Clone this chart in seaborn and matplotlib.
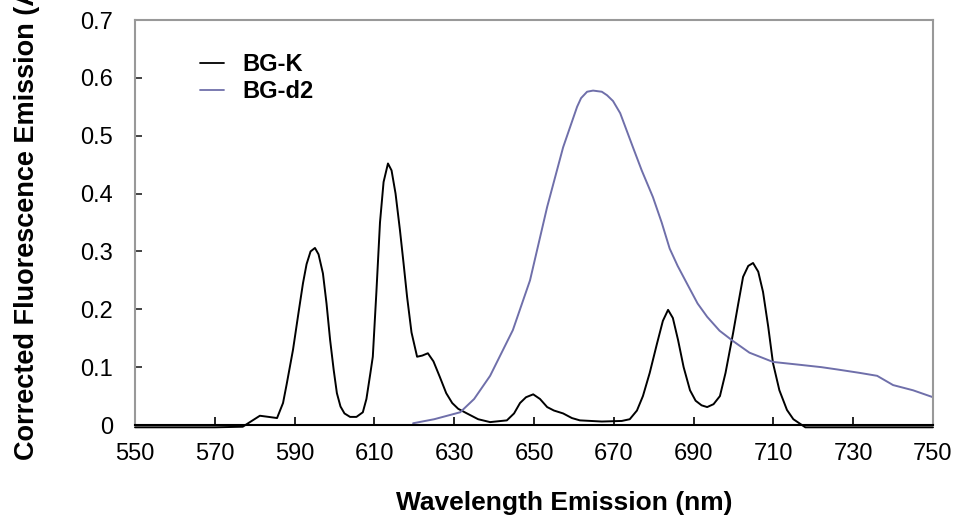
import numpy as np
import pandas as pd
import matplotlib
matplotlib.use('Agg')
import matplotlib.pyplot as plt
import seaborn as sns
from matplotlib.ticker import FuncFormatter

# 读数：BG-K 发射光谱
bgk_nm = [550, 560, 570, 577, 578.8, 581.3, 583.5, 585.6, 587.1, 588, 589.6, 591, 592.1, 593,
          594, 595.1, 596, 597.1, 598, 598.9, 599.8, 600.6, 601.5, 602.5, 603.9, 605.5,
          607.1, 608, 609, 609.6, 610.5, 611.4, 612.3, 613.4, 614.3, 615.3, 616.4, 617.3,
          618.2, 619.3, 620.7, 622, 623.4, 624.8, 626.4, 628, 629.5, 631, 633.2, 636, 639,
          643.2, 645, 646.5, 648, 649.8, 651.5, 653.3, 655, 657.3, 659.5, 661.5, 667, 672,
          674, 675.8, 677.3, 679, 680.8, 682.3, 683.6, 684.8, 686.1, 687.5, 689.1, 690.5,
          692, 693.4, 695, 696.6, 698, 699.9, 701.2, 702.4, 703.7, 704.9, 706.2, 707.4,
          708.7, 709.9, 711.5, 713.4, 715, 716.5, 718, 730, 740, 750]
bgk_val = [-0.004, -0.004, -0.004, -0.003, 0.005, 0.016, 0.014, 0.012, 0.038, 0.07, 0.13, 0.195,
           0.245, 0.278, 0.3, 0.306, 0.295, 0.262, 0.21, 0.147, 0.095, 0.055, 0.032, 0.02,
           0.014, 0.014, 0.022, 0.045, 0.09, 0.118, 0.23, 0.35, 0.42, 0.452, 0.44, 0.4,
           0.337, 0.28, 0.221, 0.16, 0.118, 0.12, 0.124, 0.11, 0.083, 0.055, 0.038, 0.028,
           0.02, 0.01, 0.005, 0.008, 0.02, 0.038, 0.048, 0.053, 0.045, 0.031, 0.025, 0.02,
           0.012, 0.008, 0.006, 0.007, 0.01, 0.025, 0.05, 0.09, 0.14, 0.18, 0.199, 0.185,
           0.147, 0.1, 0.06, 0.042, 0.034, 0.031, 0.036, 0.05, 0.09, 0.159, 0.21, 0.256,
           0.275, 0.28, 0.265, 0.23, 0.17, 0.107, 0.06, 0.026, 0.01, 0.003, -0.004, -0.004,
           -0.004, -0.004]

# 读数：BG-d2 发射光谱
bgd2_nm = [619.7, 625, 631.5, 635, 639, 644.7, 649, 653.3, 657.3, 660.8, 661.8, 663.3, 664.8,
           667, 668.3, 669.8, 671.6, 674.8, 677, 679.8, 682, 684, 686, 688.3, 691, 693.4,
           696.5, 699.9, 704, 709.9, 716.7, 722, 726, 731.7, 736, 740, 745, 750]
bgd2_val = [0.003, 0.01, 0.022, 0.045, 0.085, 0.164, 0.25, 0.377, 0.48, 0.55, 0.565, 0.576,
            0.578, 0.576, 0.57, 0.56, 0.539, 0.48, 0.44, 0.394, 0.35, 0.305, 0.275, 0.245,
            0.21, 0.187, 0.163, 0.145, 0.125, 0.109, 0.104, 0.1, 0.096, 0.09, 0.085, 0.069,
            0.06, 0.048]

series_names = ['BG-K', 'BG-d2']
series_colors = ['#000000', '#6F6FAA']

df = pd.concat([
    pd.DataFrame({'nm': bgk_nm, 'val': bgk_val, 'sample': series_names[0]}),
    pd.DataFrame({'nm': bgd2_nm, 'val': bgd2_val, 'sample': series_names[1]}),
])

sns.set_style('white')
plt.rcParams['font.family'] = ['Liberation Sans', 'DejaVu Sans']
plt.rcParams['text.color'] = 'black'
plt.rcParams['xtick.color'] = 'black'
plt.rcParams['ytick.color'] = 'black'

fig = plt.figure(figsize=(9.56, 5.25), dpi=100)
ax = fig.add_axes([135 / 956, 100 / 525, 798 / 956, 405 / 525])

sns.lineplot(data=df, x='nm', y='val', hue='sample', palette=series_colors,
             hue_order=series_names, linewidth=1.4, ax=ax, sort=False, estimator=None)
for ln in ax.get_lines():
    ln.set_clip_on(False)

ax.set_xlim(550, 750)
ax.set_ylim(0, 0.7)
ax.set_xticks(np.arange(550, 751, 20))
ax.set_yticks(np.arange(0, 0.71, 0.1))
ax.yaxis.set_major_formatter(FuncFormatter(lambda v, p: '0' if abs(v) < 1e-9 else f'{v:.1f}'))

for s in ['left', 'top', 'right']:
    ax.spines[s].set_color('#999999')
    ax.spines[s].set_linewidth(1.5)
ax.spines['bottom'].set_color('black')
ax.spines['bottom'].set_linewidth(1.5)

ax.tick_params(axis='y', direction='in', length=5, width=1.2, color='#222222',
               labelsize=17, labelcolor='black', pad=16, left=True)
ax.tick_params(axis='x', direction='in', length=6, width=1.2, color='black',
               labelsize=17, labelcolor='black', pad=13, bottom=True)

ax.set_xlabel('')
ax.set_ylabel('')
fig.text(564 / 956, 1 - 503 / 525, 'Wavelength Emission (nm)', ha='center', va='center',
         fontsize=19, fontweight='bold')
fig.text(27 / 956, 1 - 460 / 525, 'Corrected Fluorescence Emission (AU)', rotation=90,
         ha='center', va='bottom', fontsize=19.5, fontweight='bold')

leg = ax.legend(loc='upper left', bbox_to_anchor=(0.055, 0.97), frameon=False,
                handlelength=1.0, handletextpad=0.8, labelspacing=0.15,
                prop={'size': 17, 'weight': 'bold'})
for h in leg.get_lines():
    h.set_linewidth(1.3)

fig.savefig('out.png', dpi=100)
